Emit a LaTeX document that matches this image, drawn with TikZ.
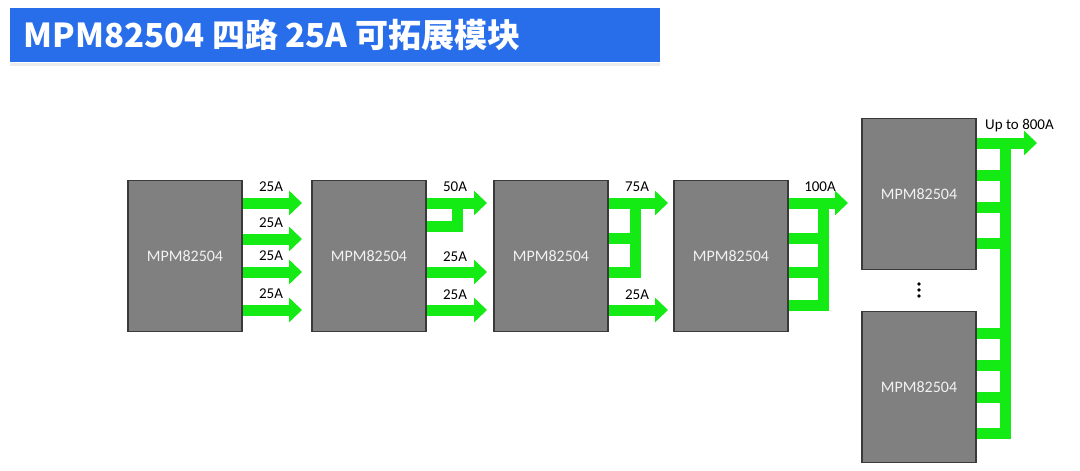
\documentclass[tikz,border=0pt]{standalone}
\usepackage{fontspec}
\setmainfont{Carlito}
\newfontfamily\cjk{Noto Sans CJK SC}
\usetikzlibrary{arrows.meta}
\definecolor{tblue}{RGB}{40,110,235}
\definecolor{grn}{RGB}{20,235,20}
\definecolor{blk}{RGB}{128,128,128}
\begin{document}
\begin{tikzpicture}[x=1pt,y=-1pt,
  mpm/.style={draw=blk!45!black,line width=1.5pt,fill=blk,minimum width=114pt,minimum height=151pt,inner sep=0pt,text=white!90!gray,font=\fontsize{16}{16}\selectfont},
  bus/.style={draw=grn,line width=11pt},
  arr/.style={bus,-{Triangle[width=24pt,length=13pt]}},
  lab/.style={font=\fontsize{15}{15}\selectfont,inner sep=0pt}]
\useasboundingbox (0,0) rectangle (1080,471);
\fill[tblue] (10,8) rectangle (660,62);
\node[anchor=west,text=white,font=\cjk\bfseries\fontsize{33}{33}\selectfont] (title) at (20,35) {MPM82504 四路 25A 可拓展模块};
\fill[gray!15] (10,63) rectangle (660,66);

\node[mpm] (b1) at (185,256) {MPM82504};
\node[mpm] (b2) at (369,256) {MPM82504};
\node[mpm] (b3) at (551,256) {MPM82504};
\node[mpm] (b4) at (731,256) {MPM82504};
\node[mpm] (b5) at (919,194) {MPM82504};
\node[mpm] (b6) at (919,387) {MPM82504};

% block 1
\foreach \y [count=\i] in {203,239,272,310}{
  \coordinate (o1\i) at (302,\y);
  \draw[arr] (b1.east |- o1\i) -- (o1\i);
  \node[lab] (l1\i) at (271,\y-16) {25A};
}
% block 2
\coordinate (t2) at (487,203);
\coordinate (j2) at (457,226);
\draw[arr] (b2.east |- t2) -- (t2);
\draw[bus] (b2.east |- j2) -| ([yshift=5.5pt]j2 |- t2);
\node[lab] (l21) at (455,187) {50A};
\foreach \y [count=\i] in {272,310}{
  \coordinate (o2\i) at (487,\y);
  \draw[arr] (b2.east |- o2\i) -- (o2\i);
  \node[lab] (l2\i x) at (455,\y-15) {25A};
}
% block 3
\coordinate (t3) at (668,203);
\coordinate (v3) at (635,272);
\draw[arr] (b3.east |- t3) -- (t3);
\draw[bus] (b3.east |- v3) -| ([yshift=5.5pt]v3 |- t3);
\draw[bus] (b3.east |- 0,238) -- (v3 |- 0,238);
\node[lab] (l31) at (637,187) {75A};
\coordinate (o3) at (668,310);
\draw[arr] (b3.east |- o3) -- (o3);
\node[lab] (l32) at (637,295) {25A};
% block 4
\coordinate (t4) at (848,203);
\coordinate (v4) at (823,305);
\draw[arr] (b4.east |- t4) -- (t4);
\draw[bus] (b4.east |- v4) -| ([yshift=5.5pt]v4 |- t4);
\foreach \y in {238,272}{\draw[bus] (b4.east |- 0,\y) -- (v4 |- 0,\y);}
\node[lab] (l4) at (820,187) {100A};
% blocks 5/6
\coordinate (t5) at (1037,143);
\coordinate (v5) at (1005,433);
\draw[arr] (b5.east |- t5) -- (t5);
\draw[bus] (b6.east |- v5) -| ([yshift=5.5pt]v5 |- t5);
\foreach \y in {175,207,243}{\draw[bus] (b5.east |- 0,\y) -- (v5 |- 0,\y);}
\foreach \y in {333,365,397}{\draw[bus] (b6.east |- 0,\y) -- (v5 |- 0,\y);}
\node[lab,anchor=west] (l5) at (985,126) {Up to 800A};
\foreach \y in {284,290,296}{\fill (919,\y) circle (1.8pt);}
\end{tikzpicture}
\end{document}
